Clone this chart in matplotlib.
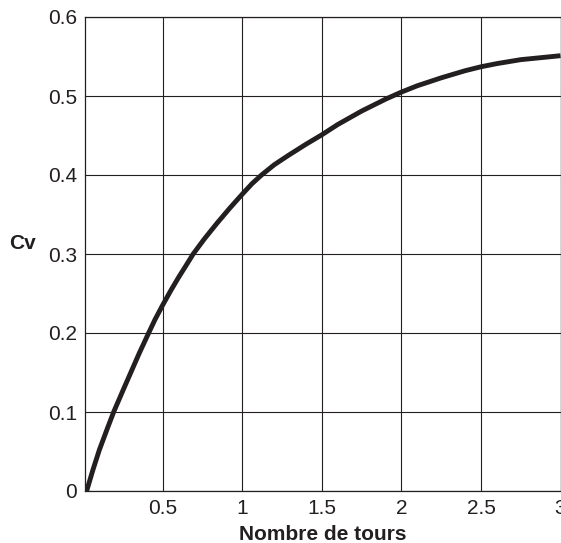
import numpy as np
import matplotlib.pyplot as plt

plt.rcParams['font.family'] = ['Liberation Sans', 'DejaVu Sans']

# Nombre de tours / coefficient Cv
tours = [0.02, 0.06, 0.1, 0.15, 0.19, 0.25, 0.3, 0.35, 0.41, 0.45, 0.5, 0.55,
         0.6, 0.65, 0.69, 0.76, 0.84, 0.92, 1.0, 1.06, 1.12, 1.2, 1.29, 1.4,
         1.5, 1.6, 1.75, 1.9, 2.0, 2.1, 2.25, 2.4, 2.5, 2.6, 2.75, 2.9, 3.0]
cv = [0.0, 0.027, 0.052, 0.079, 0.10, 0.128, 0.151, 0.174, 0.20, 0.217, 0.236,
      0.254, 0.271, 0.287, 0.30, 0.319, 0.339, 0.358, 0.376, 0.389, 0.40,
      0.413, 0.425, 0.439, 0.451, 0.464, 0.481, 0.496, 0.505, 0.513, 0.523,
      0.532, 0.537, 0.541, 0.546, 0.549, 0.551]

xticks = [0.5, 1, 1.5, 2, 2.5, 3]
xtick_labels = ['0.5', '1', '1.5', '2', '2.5', '3']
yticks = [0, 0.1, 0.2, 0.3, 0.4, 0.5, 0.6]
ytick_labels = ['0', '0.1', '0.2', '0.3', '0.4', '0.5', '0.6']

fig = plt.figure(figsize=(5.61, 5.43), dpi=100)
ax = fig.add_axes([85.2 / 561, 52 / 543, (560.5 - 85.2) / 561, (491 - 17) / 543])

ax.plot(tours, cv, color='#231f20', linewidth=3.5, solid_joinstyle='round',
        solid_capstyle='butt', zorder=3)

ax.set_xlim(0.011, 3.0)
ax.set_ylim(0, 0.6)
ax.set_xticks(xticks)
ax.set_xticklabels(xtick_labels)
ax.set_yticks(yticks)
ax.set_yticklabels(ytick_labels)
ax.tick_params(length=0, labelsize=15, colors='#231f20')
ax.tick_params(axis='y', pad=6)
ax.tick_params(axis='x', pad=6)
ax.grid(True, color='#231f20', linewidth=0.8)
for s in ax.spines.values():
    s.set_color('#231f20')
    s.set_linewidth(0.9)

ax.set_xlabel('Nombre de tours', fontsize=15, fontweight='bold', color='#231f20', labelpad=5)
fig.text(23 / 561, 1 - 243 / 543, 'Cv', fontsize=15, fontweight='bold',
         color='#231f20', ha='center', va='center')

fig.savefig('out.png', dpi=100)
